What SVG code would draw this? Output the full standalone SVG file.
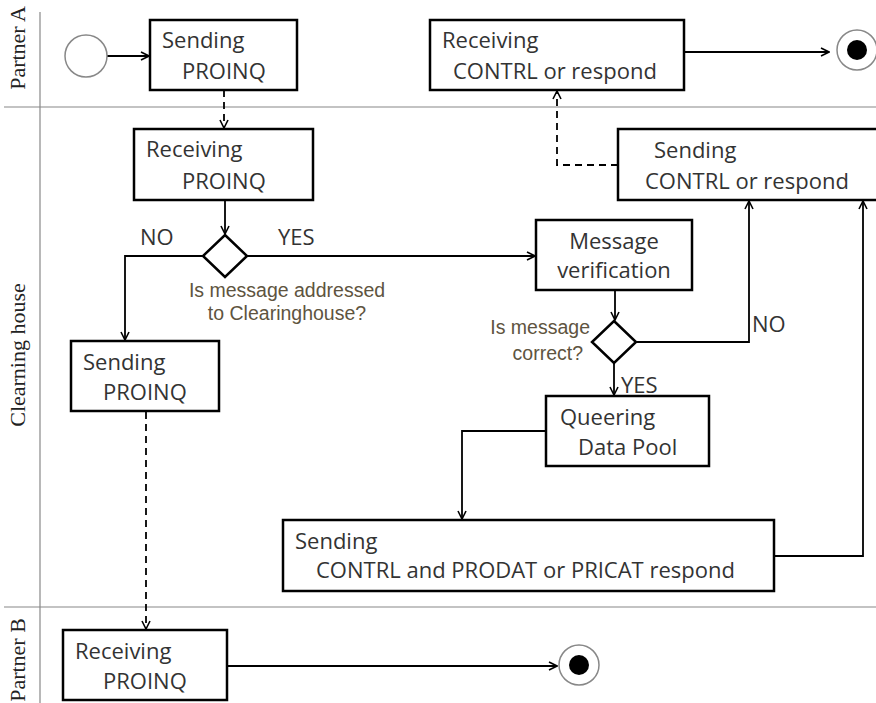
<svg xmlns="http://www.w3.org/2000/svg" width="876" height="703" viewBox="0 0 876 703">
<defs>
<marker id="arr" viewBox="0 0 10 10" refX="9" refY="5" markerWidth="10" markerHeight="10" markerUnits="userSpaceOnUse" orient="auto">
<path d="M1,1 L9,5 L1,9" fill="none" stroke="#000" stroke-width="1.6"/>
</marker>
<style>
.box{fill:#fff;stroke:#000;stroke-width:2.5}
.t{font-family:"Open Sans","Liberation Sans",sans-serif;font-size:22px;fill:#333}
.q{font-family:"Liberation Sans",Arial,sans-serif;font-size:19.5px;fill:#5e5440}
.lbl{font-family:"Open Sans","Liberation Sans",sans-serif;font-size:22px;fill:#333}
.lane{font-family:"Liberation Serif","Times New Roman",serif;font-size:22px;fill:#222}
.ln{stroke:#888;stroke-width:1.2;fill:none}
.c{stroke:#000;stroke-width:1.8;fill:none}
.d{stroke:#000;stroke-width:1.8;fill:none;stroke-dasharray:7 5}
</style>
</defs>
<rect width="876" height="703" fill="#fff"/>
<g id="lanes">
<line class="ln" x1="40" y1="12" x2="40" y2="703"/>
<line class="ln" x1="4" y1="107" x2="876" y2="107"/>
<line class="ln" x1="4" y1="607" x2="876" y2="607"/>
<text class="lane" transform="translate(25,48) rotate(-90)" text-anchor="middle">Partner A</text>
<text class="lane" transform="translate(25,355) rotate(-90)" text-anchor="middle">Clearning house</text>
<text class="lane" transform="translate(25,660) rotate(-90)" text-anchor="middle">Partner B</text>
</g>
<g id="connectors">
<line class="c" x1="107" y1="56" x2="149" y2="56" marker-end="url(#arr)"/>
<line class="d" x1="224" y1="90" x2="224" y2="128" marker-end="url(#arr)"/>
<line class="c" x1="225" y1="200" x2="225" y2="234" marker-end="url(#arr)"/>
<polyline class="c" points="203,256 125,256 125,340" marker-end="url(#arr)"/>
<line class="c" x1="248" y1="256" x2="535" y2="256" marker-end="url(#arr)"/>
<line class="c" x1="615" y1="291" x2="615" y2="320" marker-end="url(#arr)"/>
<polyline class="c" points="637,342 749,342 749,201" marker-end="url(#arr)"/>
<line class="c" x1="614" y1="363" x2="614" y2="395" marker-end="url(#arr)"/>
<polyline class="c" points="546,431 462,431 462,519" marker-end="url(#arr)"/>
<polyline class="c" points="774,556 863,556 863,201" marker-end="url(#arr)"/>
<polyline class="d" points="618,165 557,165 557,91" marker-end="url(#arr)"/>
<line class="c" x1="684" y1="52" x2="829" y2="52" marker-end="url(#arr)"/>
<line class="d" x1="146" y1="412" x2="146" y2="629" marker-end="url(#arr)"/>
<line class="c" x1="227" y1="666" x2="557" y2="666" marker-end="url(#arr)"/>
<text class="lbl" x="140" y="245">NO</text>
<text class="lbl" x="278" y="245">YES</text>
<text class="lbl" x="752" y="332">NO</text>
<text class="lbl" x="621" y="393">YES</text>
</g>
<g id="start">
<circle cx="86" cy="56" r="21" fill="#fff" stroke="#888" stroke-width="1.5"/>
</g>
<g id="sendProinqA">
<rect class="box" x="150" y="20" width="147" height="70"/>
<text class="t" x="162" y="48">Sending</text>
<text class="t" x="182" y="79">PROINQ</text>
</g>
<g id="receiveControlA">
<rect class="box" x="430" y="20" width="254" height="70"/>
<text class="t" x="442" y="48">Receiving</text>
<text class="t" x="453" y="79">CONTRL or respond</text>
</g>
<g id="endA">
<circle cx="857" cy="50" r="20" fill="#fff" stroke="#888" stroke-width="1.5"/>
<circle cx="857" cy="50" r="10" fill="#000"/>
</g>
<g id="receiveProinqCH">
<rect class="box" x="134" y="129" width="179" height="71"/>
<text class="t" x="146" y="157">Receiving</text>
<text class="t" x="182" y="189">PROINQ</text>
</g>
<g id="sendControlCH">
<rect class="box" x="618" y="129" width="270" height="71"/>
<text class="t" x="654" y="158">Sending</text>
<text class="t" x="645" y="189">CONTRL or respond</text>
</g>
<g id="decision1">
<polygon points="225,235 247,256 225,277 203,256" fill="#fff" stroke="#000" stroke-width="2.5"/>
<text class="q" x="287" y="297" text-anchor="middle">Is message addressed</text>
<text class="q" x="287" y="320" text-anchor="middle">to Clearinghouse?</text>
</g>
<g id="verification">
<rect class="box" x="536" y="220" width="156" height="70"/>
<text class="t" x="614" y="249" text-anchor="middle">Message</text>
<text class="t" x="614" y="278" text-anchor="middle">verification</text>
</g>
<g id="decision2">
<polygon points="614,321 636,342 614,363 592,342" fill="#fff" stroke="#000" stroke-width="2.5"/>
<text class="q" x="590" y="334" text-anchor="end">Is message</text>
<text class="q" x="583" y="360" text-anchor="end">correct?</text>
</g>
<g id="sendProinqCH">
<rect class="box" x="71" y="341" width="148" height="70"/>
<text class="t" x="83" y="370">Sending</text>
<text class="t" x="103" y="400">PROINQ</text>
</g>
<g id="queering">
<rect class="box" x="546" y="396" width="163" height="70"/>
<text class="t" x="560" y="425">Queering</text>
<text class="t" x="578" y="455">Data Pool</text>
</g>
<g id="sendProdat">
<rect class="box" x="283" y="520" width="491" height="71"/>
<text class="t" x="295" y="549">Sending</text>
<text class="t" x="316" y="578">CONTRL and PRODAT or PRICAT respond</text>
</g>
<g id="receiveProinqB">
<rect class="box" x="63" y="630" width="164" height="70"/>
<text class="t" x="75" y="659">Receiving</text>
<text class="t" x="103" y="689">PROINQ</text>
</g>
<g id="endB">
<circle cx="579" cy="665" r="20" fill="#fff" stroke="#888" stroke-width="1.5"/>
<circle cx="579" cy="665" r="10" fill="#000"/>
</g>
</svg>
